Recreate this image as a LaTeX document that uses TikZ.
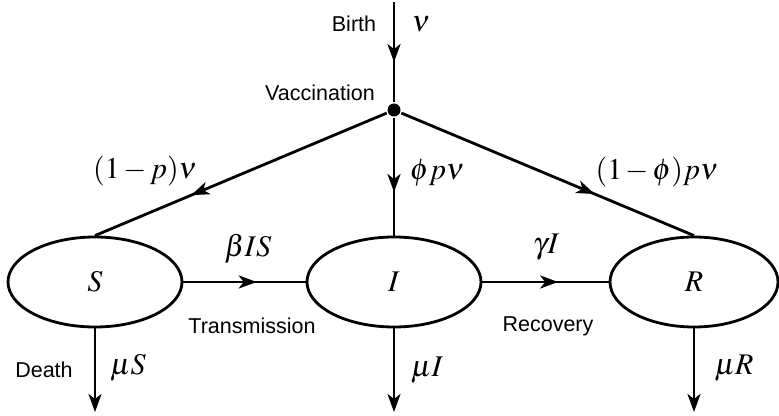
\documentclass[tikz,border=0pt]{standalone}
\usepackage{mathptmx}
\usepackage{fontspec}
\setsansfont{Liberation Sans}
\usetikzlibrary{arrows.meta,shapes.geometric,decorations.markings}
\newcommand{\tminus}{\mkern2mu{-}\mkern2mu}
\begin{document}
\begin{tikzpicture}[x=1pt,y=1pt,
  line width=2.8pt,
  comp/.style={ellipse,draw,line width=2.8pt,minimum width=174pt,minimum height=90pt,inner sep=0pt,font=\fontsize{30}{34}\selectfont},
  lbl/.style={font=\sffamily\fontsize{21.5}{24}\selectfont,inner sep=0pt},
  mlbl/.style={font=\fontsize{30}{34}\selectfont,inner sep=0pt},
  endarrow/.style={-{Stealth[length=18pt,width=13pt,inset=5pt]}},
  midarrow/.style={decoration={markings,mark=at position #1 with {\arrow{Stealth[length=18pt,width=13pt,inset=5pt]}}},postaction={decorate}}
]
\useasboundingbox (0,0) rectangle (779,415);
\node[comp] (S) at (95,133) {$S$};
\node[comp] (I) at (394,133) {$I$};
\node[comp,minimum width=168pt] (R) at (694,133) {$R$};
\node[circle,fill,inner sep=0pt,minimum size=13pt] (V) at (394,305) {};
\coordinate (B) at (394,413);
\coordinate (dS) at (95,3);
\coordinate (dI) at (394,3);
\coordinate (dR) at (694,3);

\draw[midarrow=0.6] (B) -- (V);
\draw[midarrow=0.67] (V) -- (S.north);
\draw[midarrow=0.63] (V) -- (I.north);
\draw[midarrow=0.66] (V) -- (R.north);
\draw[midarrow=0.6] (S.east) -- (I.west);
\draw[midarrow=0.6] (I.east) -- (R.west);
\draw[endarrow] (S.south) -- (dS);
\draw[endarrow] (I.south) -- (dI);
\draw[endarrow] (R.south) -- (dR);

\node[lbl] (tb) at (354,391) {Birth};
\node[mlbl] (nu) at (421,391) {$\nu$};
\node[lbl] (tv) at (320,322) {Vaccination};
\node[mlbl] (l1) at (145,244) {$(1\tminus p)\nu$};
\node[mlbl] (l2) at (437,242) {$\phi p\nu$};
\node[mlbl] (l3) at (657,243) {$(1\tminus\phi)p\nu$};
\node[mlbl] (l4) at (248,166) {$\beta IS$};
\node[mlbl] (l5) at (546,168) {$\gamma I$};
\node[lbl] (tt) at (252,89) {Transmission};
\node[lbl] (tr) at (548,89) {Recovery};
\node[lbl] (td) at (44,45) {Death};
\node[mlbl] (m1) at (128,47) {$\mu S$};
\node[mlbl] (m2) at (427,45) {$\mu I$};
\node[mlbl] (m3) at (734,47) {$\mu R$};
\end{tikzpicture}
\end{document}
